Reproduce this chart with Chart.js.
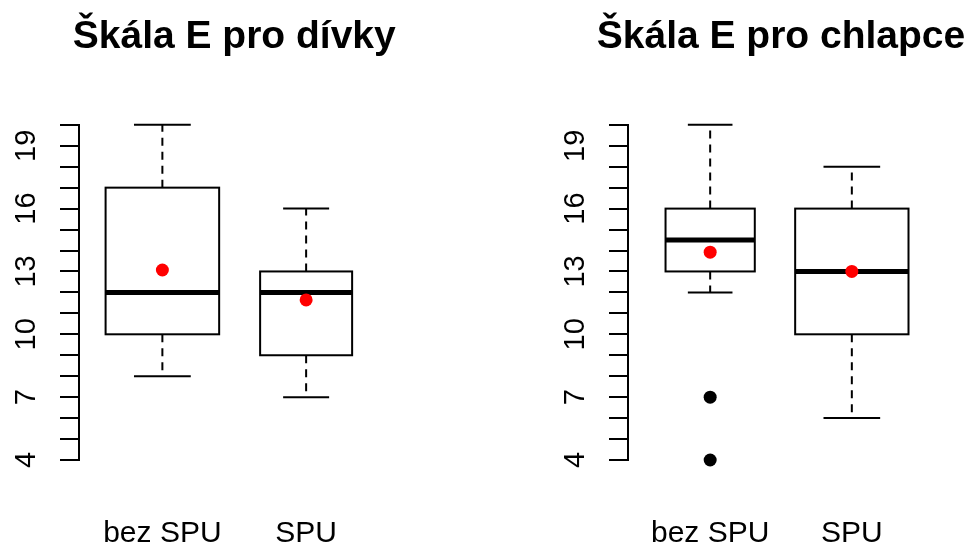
<!DOCTYPE html>
<html lang="cs">
<head>
<meta charset="utf-8">
<title>Škála E – dívky a chlapci</title>
<script src="https://cdn.jsdelivr.net/npm/chart.js@4/dist/chart.umd.min.js"></script>
<style>
  html, body { margin: 0; padding: 0; background: #fff; }
  body { position: relative; width: 967px; height: 549px; overflow: hidden; }
  .panel { position: absolute; top: 0; }
  #panelGirls { left: 0; }
  #panelBoys { left: 549px; }
</style>
</head>
<body>
<div class="panel" id="panelGirls"><canvas id="chartGirls" width="483" height="549"></canvas></div>
<div class="panel" id="panelBoys"><canvas id="chartBoys" width="464" height="549"></canvas></div>
<script>
/* Two R-style box plots (with red means) drawn with Chart.js.
   Values. */

// ---- data ----
var categories = ['bez SPU', 'SPU'];
var yTickLabels = [4, 7, 10, 13, 16, 19];

var girlsMin    = [8, 7];
var girlsQ1     = [10, 9];
var girlsMedian = [12, 12];
var girlsQ3     = [17, 13];
var girlsMax    = [20, 16];
var girlsMean   = [13.07, 11.64];
var girlsOutliers = [[], []];

var boysMin    = [12, 6];
var boysQ1     = [13, 10];
var boysMedian = [14.5, 13];
var boysQ3     = [16, 16];
var boysMax    = [20, 18];
var boysMean   = [13.92, 13];
var boysOutliers = [[7, 4], []];

// ---- styles ----
var INK  = '#000000';
var MEAN = '#ff0000';
var FONT = "'Liberation Sans', Arial, Helvetica, sans-serif";
var BOX_LW = 2;
var MEDIAN_LW = 5;
var DOT_R = 6.5;
var SIDE = 79;   // left axis width; mirrored on the right so the title centres over the plot
// relative box widths (R varwidth look), x units
var GIRLS_BOX_W = [0.79, 0.64];
var BOYS_BOX_W  = [0.63, 0.80];

Chart.defaults.font.family = FONT;
Chart.defaults.color = INK;

// draws whiskers, staples, boxes and medians through the chart's scales
function boxPlugin(s) {
  return {
    id: 'rbox',
    beforeDatasetsDraw: function (chart) {
      var ctx = chart.ctx, xs = chart.scales.x, ys = chart.scales.y;
      function seg(x1, y1, x2, y2) {
        ctx.beginPath(); ctx.moveTo(x1, y1); ctx.lineTo(x2, y2); ctx.stroke();
      }
      ctx.save();
      ctx.strokeStyle = INK;
      ctx.lineCap = 'butt';
      for (var i = 0; i < s.q1.length; i++) {
        var cx = xs.getPixelForValue(i + 1);
        var half = Math.abs(xs.getPixelForValue(i + 1 + s.width[i] / 2) - cx);
        var yMin = ys.getPixelForValue(s.min[i]), yMax = ys.getPixelForValue(s.max[i]);
        var yQ1 = ys.getPixelForValue(s.q1[i]), yQ3 = ys.getPixelForValue(s.q3[i]);
        var yMed = ys.getPixelForValue(s.median[i]);

        ctx.lineWidth = BOX_LW;
        ctx.setLineDash([8, 6]);
        seg(cx, yQ3, cx, yMax);
        seg(cx, yQ1, cx, yMin);
        ctx.setLineDash([]);
        seg(cx - half / 2, yMax, cx + half / 2, yMax);
        seg(cx - half / 2, yMin, cx + half / 2, yMin);

        ctx.fillStyle = '#fff';
        ctx.fillRect(cx - half, yQ3, 2 * half, yQ1 - yQ3);
        ctx.strokeRect(cx - half, yQ3, 2 * half, yQ1 - yQ3);

        ctx.lineWidth = MEDIAN_LW;
        seg(cx - half, yMed, cx + half, yMed);
      }
      ctx.restore();
    }
  };
}

function points(values) {
  return values.map(function (v, i) { return { x: i + 1, y: v }; });
}
function outlierPoints(groups) {
  var out = [];
  groups.forEach(function (g, i) { g.forEach(function (v) { out.push({ x: i + 1, y: v }); }); });
  return out;
}

function makeChart(id, title, stats, padRight) {
  return new Chart(document.getElementById(id), {
    type: 'scatter',
    data: {
      datasets: [
        { label: 'outliers', data: outlierPoints(stats.outliers), backgroundColor: INK, yAxisID: 'y',
          borderWidth: 0, pointRadius: DOT_R, pointHoverRadius: DOT_R, clip: false },
        { label: 'mean', data: points(stats.mean), backgroundColor: MEAN, yAxisID: 'y',
          borderWidth: 0, pointRadius: DOT_R, pointHoverRadius: DOT_R, clip: false }
      ]
    },
    plugins: [boxPlugin(stats)],
    options: {
      responsive: false,
      animation: false,
      layout: { padding: { left: 0, right: padRight, top: 0, bottom: 0 } },
      plugins: {
        legend: { display: false },
        tooltip: { enabled: false },
        title: {
          display: true, text: title, color: INK,
          font: { size: 39, weight: 'bold' },
          padding: { top: 14, bottom: 64 }
        }
      },
      scales: {
        x: {
          type: 'linear', min: 0.42, max: 2.58,
          grid: { display: false, drawTicks: false },
          border: { display: false },
          afterBuildTicks: function (sc) {
            sc.ticks = categories.map(function (c, i) { return { value: i + 1 }; });
          },
          afterFit: function (sc) { sc.height = 89; },
          ticks: {
            autoSkip: false, maxRotation: 0, padding: 56, color: INK,
            font: { size: 30 },
            callback: function (v) { return categories[v - 1]; }
          }
        },
        y: {
          type: 'linear', min: 4, max: 20,
          grid: { drawOnChartArea: false, drawTicks: true, tickLength: 19, color: INK, lineWidth: BOX_LW },
          border: { display: true, color: INK, width: BOX_LW },
          afterFit: function (sc) { sc.width = SIDE; },
          ticks: {
            stepSize: 1, autoSkip: false, minRotation: 90, maxRotation: 90,
            crossAlign: 'center', padding: 17, color: INK, font: { size: 29 },
            callback: function (v) { return yTickLabels.indexOf(v) >= 0 ? String(v) : ''; }
          }
        },
        // empty spacer on the right, same width as the left axis
        y2: {
          type: 'linear', position: 'right', min: 4, max: 20,
          grid: { display: false, drawTicks: false },
          border: { display: false },
          ticks: { display: false },
          afterFit: function (sc) { sc.width = SIDE; }
        }
      }
    }
  });
}

makeChart('chartGirls', 'Škála E pro dívky', {
  min: girlsMin, q1: girlsQ1, median: girlsMedian, q3: girlsQ3, max: girlsMax,
  mean: girlsMean, outliers: girlsOutliers, width: GIRLS_BOX_W
}, 14.5);

makeChart('chartBoys', 'Škála E pro chlapce', {
  min: boysMin, q1: boysQ1, median: boysMedian, q3: boysQ3, max: boysMax,
  mean: boysMean, outliers: boysOutliers, width: BOYS_BOX_W
}, 0);
</script>
</body>
</html>
